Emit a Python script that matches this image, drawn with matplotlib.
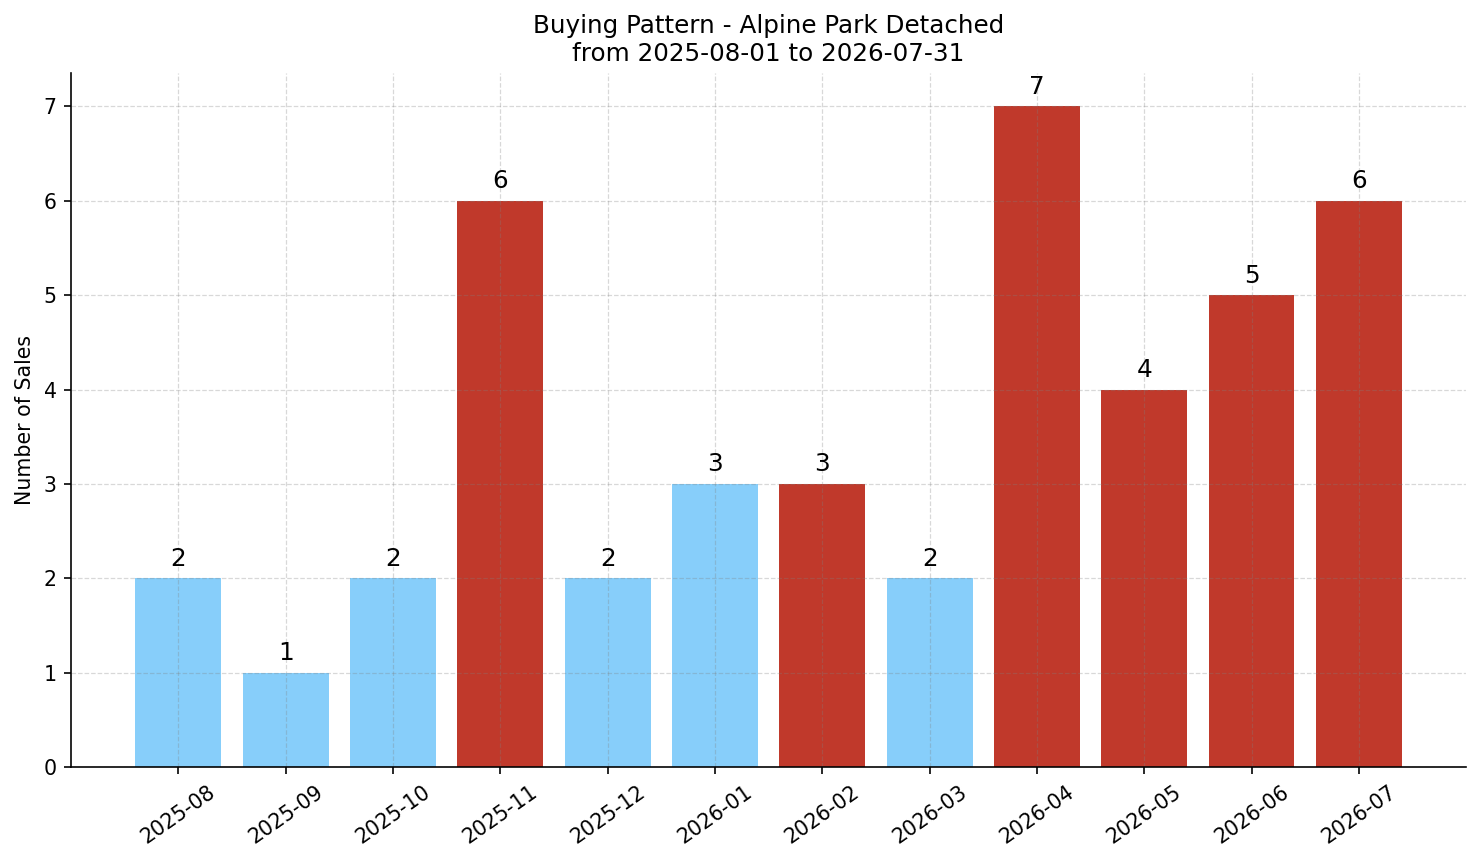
import matplotlib.pyplot as plt

months = ['2025-08', '2025-09', '2025-10', '2025-11', '2025-12', '2026-01',
          '2026-02', '2026-03', '2026-04', '2026-05', '2026-06', '2026-07']
sales = [2, 1, 2, 6, 2, 3, 3, 2, 7, 4, 5, 6]
is_red = [False, False, False, True, False, False, True, False, True, True, True, True]

colors = ['#C0392B' if r else '#87CEFA' for r in is_red]

fig, ax = plt.subplots(figsize=(1481 / 148, 863 / 148), dpi=148)
fig.subplots_adjust(left=0.048, right=0.99, top=0.915, bottom=0.111)

x = range(len(months))
ax.bar(x, sales, color=colors, width=0.8)
for i, v in zip(x, sales):
    ax.text(i, v + 0.08, str(v), ha='center', va='bottom', fontsize=12)

ax.set_xticks(list(x))
ax.set_xticklabels(months, rotation=35)
ax.set_xlim(-1, 12)
ax.set_ylim(0, 7.35)
ax.set_ylabel('Number of Sales')
ax.set_title('Buying Pattern - Alpine Park Detached\nfrom 2025-08-01 to 2026-07-31')
ax.grid(True, linestyle='--', color='gray', alpha=0.3, linewidth=0.6)
ax.spines['top'].set_visible(False)
ax.spines['right'].set_visible(False)

plt.savefig('out.png', dpi=148)
